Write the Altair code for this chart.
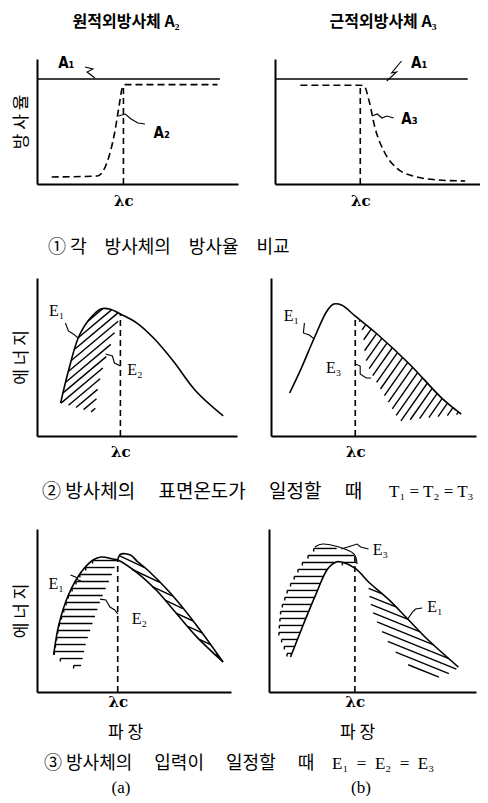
import altair as alt
import numpy as np
import pandas as pd

KFONT = "Noto Sans CJK KR"
SERIF = "Liberation Serif"
ALAB = "DejaVu Sans Condensed"
IS = "\u3000"   # ideographic space (not collapsed in SVG)
NB = "\u00a0"   # no-break space (not collapsed in SVG)

# ---------------- texts ----------------
TITLE_A = "원적외방사체 A₂"
TITLE_B = "근적외방사체 A₃"
YTITLE_1 = "방 사 율"
YTITLE_E = "에 너 지"
XTITLE = "파 장"
LAMBDA_C = "λc"
CAPTION_1 = "① 각" + IS + "방사체의" + IS + "방사율" + IS + "비교"
CAPTION_2 = "② 방사체의" + IS + NB + "표면온도가" + IS + NB + "일정할" + IS + NB + "때"
CAPTION_2_EQ = "T₁ = T₂ = T₃"
CAPTION_3 = "③ 방사체의" + IS + NB + "입력이" + IS + NB + "일정할" + IS + NB + "때"
CAPTION_3_EQ = "E₁" + NB * 2 + "=" + NB * 2 + "E₂" + NB * 2 + "=" + NB * 2 + "E₃"
SUB_A = "(a)"
SUB_B = "(b)"

# ---------------- data (x: wavelength 0-100, y: value 0-100) ----------------
# Row 1 (a): far-infrared emitter
r1a_lam = 43.0
r1a_lam_top = 79.0
r1a_A1_x = [0, 91]
r1a_A1_y = [84, 84]
r1a_A2_x = [7.3, 30, 35.1, 38.5, 41, 42.4, 43.9, 89.8]
r1a_A2_y = [5.6, 6.4, 18.4, 40, 64, 76.8, 79.5, 79.5]
r1a_lab_text = ["A₁", "A₂"]
r1a_lab_x = [14.6, 62]
r1a_lab_y = [96.8, 40.8]
r1a_lead1_x = [23.9, 27.8, 24.9, 28.8]
r1a_lead1_y = [93.6, 92, 89.6, 84.8]
r1a_lead2_x = [40.5, 43.9, 46.8, 50.2, 53.7]
r1a_lead2_y = [54.4, 56, 52, 48.8, 48]

# Row 1 (b): near-infrared emitter
r1b_lam = 41.6
r1b_lam_top = 79.0
r1b_A1_x = [0, 94]
r1b_A1_y = [84, 84]
r1b_A3_x = [12.4, 41.6, 43.5, 45.9, 48.8, 53.1, 59.3, 67.5, 79.9, 92.8]
r1b_A3_y = [79, 79, 78.4, 66.4, 44.8, 26.4, 12.8, 6.4, 3.2, 2.4]
r1b_lab_text = ["A₁", "A₃"]
r1b_lab_x = [70.3, 65.6]
r1b_lab_y = [96.8, 52]
r1b_lead1_x = [61.7, 56.9, 59.3, 54.5]
r1b_lead1_y = [98.4, 88.8, 89.6, 82.4]
r1b_lead2_x = [47.4, 49.8, 52.2, 54.5, 57.9]
r1b_lead2_y = [54.4, 56, 52.8, 54.4, 52.8]

# Row 2 (a)
r2a_lam = 41.7
r2a_lam_top = 77.2
r2a_E1_x = [11.8, 15.7, 20.6, 25.5, 31.9, 36.3, 41.7, 50, 58.3, 68.1, 79.4, 93.1]
r2a_E1_y = [20.9, 41.1, 62, 72.8, 80.4, 80.4, 77.2, 71.5, 62, 47.5, 28.5, 12.7]
r2a_E2_x = [41.7, 38.7, 36.3, 33.8, 30.4, 28.9]
r2a_E2_y = [77.2, 65, 55.7, 47.5, 30.4, 14.6]
r2a_lab_text = ["E₁", "E₂"]
r2a_lab_x = [9.8, 49]
r2a_lab_y = [79, 42]
r2a_lead1_x = [14.2, 15.7, 18.1, 20.6]
r2a_lead1_y = [71.5, 66.5, 64.6, 62]
r2a_lead2_x = [34.3, 37.7, 38.7, 41.7]
r2a_lead2_y = [51.9, 50.6, 46.2, 44.3]

# Row 2 (b)
r2b_lam = 41.1
r2b_lam_top = 75.9
r2b_E1_x = [9.1, 14.8, 21.1, 27.3, 30.6, 34.4, 41.1, 51.2, 67.5, 83.3, 92.8]
r2b_E1_y = [27.2, 43, 62, 79.1, 83.5, 82.9, 75.9, 65.2, 45.6, 24, 13.9]
r2b_E3_x = [41.1, 43.5, 45, 45.9, 48.3, 53.1, 62.7, 75.1, 92.8]
r2b_E3_y = [75.9, 71.5, 64.6, 49.4, 41.1, 30.4, 9.5, 11.4, 13.9]
r2b_lab_text = ["E₁", "E₃"]
r2b_lab_x = [10, 30.6]
r2b_lab_y = [76, 43]
r2b_lead1_x = [16.3, 15.8, 18.7, 21.1]
r2b_lead1_y = [71.5, 65.2, 63.9, 61.4]
r2b_lead2_x = [41.1, 43.5, 43.5, 46.4, 48.8]
r2b_lead2_y = [45.6, 44.3, 39.2, 36.7, 36.7]

# Row 3 (a)
r3a_lam = 41.6
r3a_lam_top = 81.0
r3a_E1_x = [8.6, 11.2, 16.2, 22.8, 28.9, 33, 39.1, 41.6, 51.8, 61.9, 72, 82.2, 95.9]
r3a_E1_y = [22.7, 41, 59.5, 73.6, 81, 82.8, 81.6, 81, 73, 62, 48, 34, 18.4]
r3a_E2_x = [22.3, 25.4, 28.9, 33, 37.6, 41.6, 43.1, 48.2, 51.8, 56.9, 68.5, 82.2, 95.9]
r3a_E2_y = [14.1, 30.7, 43, 57, 69.3, 81, 84.5, 84, 80, 75, 61, 41, 18.4]
r3a_lab_text = ["E₁", "E₂"]
r3a_lab_x = [9.9, 52.8]
r3a_lab_y = [66, 44.8]
r3a_lead1_x = [17.3, 19.8, 21.3, 22.8]
r3a_lead1_y = [71.8, 70.6, 68.7, 68.1]
r3a_lead2_x = [32.5, 35.5, 37.6, 40.1, 41.6]
r3a_lead2_y = [57, 56.4, 52.1, 50.3, 47.9]

# Row 3 (b)
r3b_lam = 41.5
r3b_lam_top = 85.9
r3b_E1_x = [10.4, 16.5, 23.1, 28.3, 32.5, 34.9, 42, 48.1, 57.5, 67, 76.4, 91.5]
r3b_E1_y = [21.5, 41.1, 61.3, 75.5, 79.8, 79.8, 75.5, 67.5, 57.1, 44.8, 32.5, 15.3]
r3b_E3o_x = [9, 4.7, 5.7, 9, 15.1, 22.2, 25.9, 41, 42.5]
r3b_E3o_y = [22.7, 36.8, 50.9, 63.2, 77.9, 89, 90.8, 84.7, 78.5]
r3b_E3i_x = [48.1, 49.5, 52.8, 57.5, 63.7, 71.7, 79.7, 89.2, 91.5]
r3b_E3i_y = [62.6, 50.9, 41.1, 30.7, 20.2, 12.3, 8, 12.3, 15.3]
r3b_lab_text = ["E₃", "E₁"]
r3b_lab_x = [53.8, 80.2]
r3b_lab_y = [87.1, 52]
r3b_lead1_x = [34.9, 39.6, 42.5, 44.3, 48.1]
r3b_lead1_y = [87.7, 89.6, 90.8, 89, 87.7]
r3b_lead2_x = [67, 69.3, 70.8, 74]
r3b_lead2_y = [44.8, 49, 50.9, 51.5]


# ---------------- helpers ----------------
def hatch(px, py, w, h, angle, spacing, tick=0.0):
    """Clip parallel hatch lines to the polygon given by (px, py)."""
    X = np.asarray(px, float) * w / 100.0
    Y = np.asarray(py, float) * h / 100.0
    P = np.stack([X, Y], 1)
    a = np.radians(angle)
    d = np.array([np.cos(a), np.sin(a)])
    n = np.array([-np.sin(a), np.cos(a)])
    proj = P @ n
    rows = []
    t = proj.min() + spacing / 2
    while t < proj.max():
        pts = []
        for i in range(len(P)):
            A = P[i]
            B = P[(i + 1) % len(P)]
            sa = A @ n - t
            sb = B @ n - t
            if (sa < 0) != (sb < 0):
                pts.append(A + (B - A) * sa / (sa - sb))
        pts.sort(key=lambda q: q @ d)
        for j in range(0, len(pts) - 1, 2):
            p0, p1 = pts[j], pts[j + 1]
            rows.append({"x": p0[0] * 100 / w, "y": p0[1] * 100 / h,
                         "x2": p1[0] * 100 / w, "y2": p1[1] * 100 / h})
            if tick:
                rows.append({"x": p0[0] * 100 / w, "y": p0[1] * 100 / h,
                             "x2": p0[0] * 100 / w, "y2": (p0[1] - tick) * 100 / h})
        t += spacing
    return rows


def lines_df(lines):
    rows = []
    for i, (xs, ys) in enumerate(lines):
        for k, (xv, yv) in enumerate(zip(xs, ys)):
            rows.append({"x": xv, "y": yv, "id": i, "k": k})
    return pd.DataFrame(rows)


def panel(w, h, lam, lam_top, solid, dashed, hatches, lab_text, lab_x, lab_y,
          leaders, label_font, label_size, label_weight="normal", ytitle=None,
          xtitle=None, lab_pad=10, xtitle_x=0, xtitle_y=40, thin=None):
    sx = alt.Scale(domain=[0, 100], nice=False, zero=False)
    sy = alt.Scale(domain=[0, 100], nice=False, zero=False)
    xkw = dict(values=[lam], labelExpr="'" + LAMBDA_C + "'", ticks=False, grid=False,
               domainColor="black", domainWidth=2, labelFont="DejaVu Serif",
               labelFontSize=15, labelFontWeight="bold", labelColor="black",
               labelPadding=lab_pad, title=xtitle)
    if xtitle:
        xkw.update(titleFont=KFONT, titleFontSize=17, titleFontWeight="normal",
                   titleColor="black", titleX=xtitle_x, titleY=xtitle_y,
                   titleBaseline="middle", titleAlign="center")
    ykw = dict(labels=False, ticks=False, grid=False, domainColor="black",
               domainWidth=2, title=ytitle)
    if ytitle:
        ykw.update(titleFont=KFONT, titleFontSize=17, titleFontWeight="normal",
                   titleColor="black", titlePadding=7)
    X = alt.X("x:Q", scale=sx, axis=alt.Axis(**xkw))
    Y = alt.Y("y:Q", scale=sy, axis=alt.Axis(**ykw))

    layers = []
    lam_df = pd.DataFrame({"x": [lam], "y": [0], "y2": [lam_top]})
    layers.append(alt.Chart(lam_df).mark_rule(color="black", strokeWidth=1.6,
                                                strokeDash=[6, 4]).encode(x=X, y=Y, y2="y2:Q"))
    hrows = []
    for (hx, hy, ang, sp, tk) in hatches:
        hrows += hatch(hx, hy, w, h, ang, sp, tk)
    if hrows:
        layers.append(alt.Chart(pd.DataFrame(hrows)).mark_rule(color="black", strokeWidth=1.4)
                      .encode(x=X, y=Y, x2="x2:Q", y2="y2:Q"))
    if solid:
        layers.append(alt.Chart(lines_df(solid)).mark_line(color="black", strokeWidth=1.6,
                                                           interpolate="catmull-rom")
                      .encode(x=X, y=Y, detail="id:N", order="k:Q"))
    if thin:
        layers.append(alt.Chart(lines_df(thin)).mark_line(color="black", strokeWidth=1.1,
                                                          interpolate="catmull-rom")
                      .encode(x=X, y=Y, detail="id:N", order="k:Q"))
    if dashed:
        layers.append(alt.Chart(lines_df(dashed)).mark_line(color="black", strokeWidth=1.6,
                                                            strokeDash=[7, 4],
                                                            interpolate="monotone")
                      .encode(x=X, y=Y, detail="id:N", order="k:Q"))
    layers.append(alt.Chart(lines_df(leaders)).mark_line(color="black", strokeWidth=1.1)
                  .encode(x=X, y=Y, detail="id:N", order="k:Q"))
    lab_df = pd.DataFrame({"x": lab_x, "y": lab_y, "t": lab_text})
    layers.append(alt.Chart(lab_df).mark_text(font=label_font, fontSize=label_size,
                                              fontWeight=label_weight,
                                              color="black", baseline="middle")
                  .encode(x=X, y=Y, text="t:N"))
    return alt.layer(*layers).properties(width=w, height=h)


def caption(height, items, width=400):
    layers = []
    for (txt, x, y, font, size, align, weight) in items:
        df = pd.DataFrame({"t": [txt]})
        layers.append(alt.Chart(df).mark_text(font=font, fontSize=size, align=align,
                                              fontWeight=weight,
                                              baseline="middle", color="black")
                      .encode(x=alt.value(x), y=alt.value(y), text="t:N"))
    return alt.layer(*layers).properties(width=width, height=height)


p1a = panel(201, 125, r1a_lam, r1a_lam_top,
            solid=[(r1a_A1_x, r1a_A1_y)], dashed=[(r1a_A2_x, r1a_A2_y)], hatches=[],
            lab_text=r1a_lab_text, lab_x=r1a_lab_x, lab_y=r1a_lab_y,
            leaders=[(r1a_lead1_x, r1a_lead1_y), (r1a_lead2_x, r1a_lead2_y)],
            label_font=ALAB, label_size=15, label_weight="bold",
            ytitle=YTITLE_1, lab_pad=9)
p1b = panel(205, 125, r1b_lam, r1b_lam_top,
            solid=[(r1b_A1_x, r1b_A1_y)], dashed=[(r1b_A3_x, r1b_A3_y)], hatches=[],
            lab_text=r1b_lab_text, lab_x=r1b_lab_x, lab_y=r1b_lab_y,
            leaders=[(r1b_lead1_x, r1b_lead1_y), (r1b_lead2_x, r1b_lead2_y)],
            label_font=ALAB, label_size=15, label_weight="bold", lab_pad=9)

# polygons for hatching (built from the curves)
k2a = r2a_E1_x.index(r2a_lam)
poly2a = (r2a_E1_x[:k2a + 1] + r2a_E2_x[1:], r2a_E1_y[:k2a + 1] + r2a_E2_y[1:])
p2a = panel(200, 158, r2a_lam, r2a_lam_top,
            solid=[(r2a_E1_x, r2a_E1_y)], dashed=[],
            hatches=[(poly2a[0], poly2a[1], 40, 6.5, 0)],
            lab_text=r2a_lab_text, lab_x=r2a_lab_x, lab_y=r2a_lab_y,
            leaders=[(r2a_lead1_x, r2a_lead1_y), (r2a_lead2_x, r2a_lead2_y)],
            label_font=SERIF, label_size=16, ytitle=YTITLE_E, lab_pad=8)

k2b = r2b_E1_x.index(r2b_lam)
poly2b = (r2b_E1_x[k2b:] + r2b_E3_x[-2:0:-1], r2b_E1_y[k2b:] + r2b_E3_y[-2:0:-1])
p2b = panel(205, 158, r2b_lam, r2b_lam_top,
            solid=[(r2b_E1_x, r2b_E1_y)], dashed=[],
            hatches=[(poly2b[0], poly2b[1], 55, 7, 0)],
            lab_text=r2b_lab_text, lab_x=r2b_lab_x, lab_y=r2b_lab_y,
            leaders=[(r2b_lead1_x, r2b_lead1_y), (r2b_lead2_x, r2b_lead2_y)],
            label_font=SERIF, label_size=16, lab_pad=8)

k3a1 = r3a_E1_x.index(r3a_lam)
k3a2 = r3a_E2_x.index(r3a_lam)
poly3a_l = (r3a_E1_x[:k3a1 + 1] + r3a_E2_x[k3a2 - 1::-1], r3a_E1_y[:k3a1 + 1] + r3a_E2_y[k3a2 - 1::-1])
poly3a_r = (r3a_E2_x[k3a2:] + r3a_E1_x[-2:k3a1:-1], r3a_E2_y[k3a2:] + r3a_E1_y[-2:k3a1:-1])
p3a = panel(194, 163, r3a_lam, r3a_lam_top,
            solid=[(r3a_E1_x, r3a_E1_y), (r3a_E2_x[k3a2:], r3a_E2_y[k3a2:])], dashed=[],
            hatches=[(poly3a_l[0], poly3a_l[1], 0, 7, 3), (poly3a_r[0], poly3a_r[1], -25, 7, 0)],
            lab_text=r3a_lab_text, lab_x=r3a_lab_x, lab_y=r3a_lab_y,
            leaders=[(r3a_lead1_x, r3a_lead1_y), (r3a_lead2_x, r3a_lead2_y)],
            label_font=SERIF, label_size=16, ytitle=YTITLE_E, xtitle=XTITLE,
            lab_pad=2, xtitle_x=88)

k3b = r3b_E1_x.index(42)
poly3b_l = (r3b_E3o_x + r3b_E1_x[k3b::-1], r3b_E3o_y + r3b_E1_y[k3b::-1])
poly3b_r = (r3b_E1_x[k3b + 1:] + r3b_E3i_x[-2::-1], r3b_E1_y[k3b + 1:] + r3b_E3i_y[-2::-1])
p3b = panel(207, 163, r3b_lam, r3b_lam_top,
            solid=[(r3b_E1_x, r3b_E1_y)], thin=[(r3b_E3o_x[5:], r3b_E3o_y[5:])], dashed=[],
            hatches=[(poly3b_l[0], poly3b_l[1], 0, 7, 3), (poly3b_r[0], poly3b_r[1], -22, 7, 0)],
            lab_text=r3b_lab_text, lab_x=r3b_lab_x, lab_y=r3b_lab_y,
            leaders=[(r3b_lead1_x, r3b_lead1_y), (r3b_lead2_x, r3b_lead2_y)],
            label_font=SERIF, label_size=16, xtitle=XTITLE, lab_pad=2, xtitle_x=88)

row1 = alt.hconcat(p1a, p1b, spacing=33)
row2 = alt.hconcat(p2a, p2b, spacing=34)
row3 = alt.hconcat(p3a, p3b, spacing=38)

cap0 = caption(48, [(TITLE_A, 89, 14, KFONT, 16, "center", "bold"),
                    (TITLE_B, 346, 14, KFONT, 16, "center", "bold")])
cap1 = caption(70, [(CAPTION_1, 11, 40, KFONT, 18, "left", "normal")])
cap2 = caption(70, [(CAPTION_2, 5, 33, KFONT, 19, "left", "normal"),
                    (CAPTION_2_EQ, 352, 33, SERIF, 17, "left", "normal")])
cap3 = caption(44, [(CAPTION_3, 7, 24, KFONT, 18, "left", "normal"),
                    (CAPTION_3_EQ, 295, 24, SERIF, 17, "left", "normal"),
                    (SUB_A, 84, 48, SERIF, 17, "center", "normal"),
                    (SUB_B, 324, 48, SERIF, 17, "center", "normal")])

chart = alt.vconcat(cap0, row1, cap1, row2, cap2, row3, cap3, spacing=0).properties(
    padding={"left": 4, "top": 0, "right": 0, "bottom": 0}, background="white"
).configure_view(stroke=None)

chart.save("out.html", embed_options={"renderer": "svg", "actions": False})
